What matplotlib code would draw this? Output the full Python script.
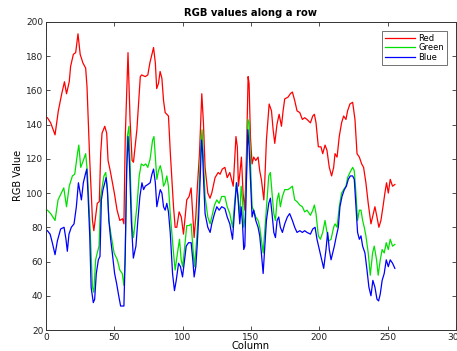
import matplotlib
matplotlib.use('Agg')
import matplotlib.pyplot as plt

# (column, value) samples
red = [(1,144),(3.4,141),(6.6,134),(9,148),(11.5,158),(13.5,165),(15,158),(17,165),(18,174),(20,181),
       (21.7,182),(23.4,193),(25,181),(27,176),(29,173),(30,162),(32,119),(34,84),(35,78),(37.5,94),
       (39,95),(40,123),(41,135),(43,139),(44.4,135),(45.4,119),(47,113),(50,100),(52,90),(54,84),
       (56,85),(57,82),(58,133),(60,182),(61.5,143),(63,119),(64,118),(66.5,137),(69,168),(70,169),
       (72.6,168),(74.5,169),(76,176),(78.7,185),(80,176),(81,161),(82.3,164),(83.5,171),(84.8,167),
       (86,154),(87.2,147),(89.6,145),(91,123),(93.3,92),(94.5,80),(95.7,80),(97.4,89),(99,86),
       (100.6,76),(101.8,86),(103,96),(104.7,98),(106.2,103),(107.2,90),(108.4,74),(109.6,86),
       (110.8,104),(112.3,123),(114,158),(115.2,141),(116.4,115),(118.4,100),(120,97),(121.3,100),
       (123.7,109),(126,112),(127.4,111),(129,114),(130.9,115),(132.6,109),(134.5,112),(137,104),
       (139,133),(140,127),(140.8,104),(141.8,111),(143,121),(144.2,100),(145.5,90),(146.7,123),
       (147.9,168),(148.6,164),(149.6,133),(150.8,117),(152,121),(153.5,119),(155.2,121),(156.4,113),
       (157.6,108),(159.4,96),(160,105),(161.3,131),(163.3,152),(165,148),(166.2,137),(167.4,129),
       (169,140),(170.6,146),(172.3,139),(173.5,148),(174.7,155),(177.1,156),(178.8,158),(180.3,159),
       (182,154),(183.7,148),(185.7,147),(187.6,143),(189.3,144),(191,143),(193.5,141),(195.2,145),
       (196.4,146),(197.6,141),(199.3,127),(201.2,127),(202.5,123),(204.2,128),(205.6,125),(207.3,115),
       (209,110),(210.5,115),(211.5,123),(213,121),(214.6,133),(216.3,141),(217.8,145),(219.5,143),
       (220.7,148),(222.4,152),(224.4,153),(226.1,143),(227.6,123),(229.3,121),(231,117),(232.4,115),
       (234.1,106),(235.8,94),(237.8,82),(239.5,88),(240.7,92),(242.2,86),(243.6,80),(245.1,84),
       (246.6,92),(248,100),(249.2,106),(250.5,100),(251.9,108),(253.6,104),(255.3,105)]

green = [(1,90),(3.4,88),(6.6,84),(8.8,96),(11.2,100),(13,103),(15,92),(17,104),(19.3,110),(21,111),
         (23,123),(24,128),(25.4,115),(27.3,119),(29,123),(30.2,113),(32,84),(34,45),(35,42),(36.3,61),
         (37.5,65),(38.8,69),(40,98),(41.2,104),(42.4,110),(43.7,112),(44.9,102),(46,84),(47.3,77),
         (49.8,65),(52.2,61),(54,55),(55.8,53),(57,46),(57.8,59),(59.5,133),(60.7,139),(62,104),(63,80),
         (64,74),(66.5,92),(68.2,110),(69.7,117),(71.4,116),(73,117),(74.5,115),(76.2,120),(78,131),
         (79,133),(80,121),(81.1,108),(82.3,113),(83.6,116),(84.8,112),(86,104),(87.2,106),(88.4,110),
         (89.6,104),(90.9,88),(93.3,65),(94.5,55),(96.2,65),(97.7,73),(98.9,61),(100,57),(101.3,67),
         (103,81),(104.7,81),(106.2,82),(107.4,69),(108.6,57),(109.9,69),(111.1,84),(112.3,108),
         (113.5,131),(114.2,137),(115.2,119),(116.4,98),(118.4,86),(120.1,82),(121.3,86),(123.3,93),
         (125,96),(126.7,94),(128.6,98),(130.9,98),(132.6,92),(134.5,88),(136.5,80),(138.2,96),
         (139.4,106),(140.6,98),(141.8,86),(142.8,104),(143.8,96),(144.7,80),(145.7,86),(146.7,113),
         (147.7,143),(148.6,141),(149.6,119),(150.8,92),(152,90),(153.5,86),(155.2,84),(156.4,80),
         (157.6,73),(158.9,65),(159.8,75),(161.3,92),(163,110),(164.2,112),(165.4,100),(166.7,88),
         (167.9,84),(169.1,96),(170.3,100),(171.5,92),(173,98),(174.7,102),(177.1,102),(178.8,103),
         (180.3,104),(182,96),(183.7,95),(185.7,93),(187.6,92),(189.3,89),(191,90),(193.5,87),
         (195.2,90),(196.4,93),(197.6,88),(199.3,75),(200.8,73),(202.5,77),(204.2,84),(205.6,77),
         (206.8,72),(208.6,73),(210.5,80),(211.5,82),(213,80),(214.6,92),(216.3,100),(217.8,102),
         (219.5,104),(220.7,109),(222.4,112),(224.4,115),(225.6,113),(226.8,100),(228,84),(229.3,90),
         (230.5,90),(231.7,84),(232.9,80),(234.1,75),(235.8,65),(237.3,52),(239,65),(240.2,69),
         (241.9,61),(243.1,52),(244.6,61),(246,67),(247.5,65),(249,71),(250.5,67),(251.9,73),
         (253.6,69),(255.3,70)]

blue = [(1,78),(3,76),(4.6,71),(6.6,64),(8.3,72),(10.7,79),(13.2,80),(14.6,73),(15.6,66),(16.8,76),
        (18.5,80),(20.5,82),(22.2,92),(23.7,106),(25,100),(25.9,96),(27.3,106),(28.8,111),(29.8,114),
        (30.7,100),(32,75),(33,45),(34.6,36),(35.6,38),(36.8,53),(38.3,61),(39.5,63),(40.5,96),
        (41.7,102),(43,106),(44,109),(44.9,102),(46,84),(47.3,73),(48.5,65),(50.2,53),(51.7,47),
        (53.2,40),(54.6,34),(56,34),(57,34),(58,65),(59,113),(60,133),(61,119),(62.4,84),(63.9,62),
        (65.8,69),(67.2,84),(68.7,98),(70.2,106),(71.4,102),(72.6,104),(74.5,105),(76.2,106),
        (77.5,111),(78.7,114),(80,106),(81.1,92),(82.3,97),(83.6,102),(84.8,100),(86,92),(87.2,90),
        (88.4,94),(89.6,89),(90.9,77),(92.6,53),(94,43),(95.3,49),(97,59),(98.4,57),(99.9,51),
        (101.1,59),(102.6,69),(104.3,71),(106.2,71),(107.4,61),(108.4,51),(109.6,57),(110.6,69),
        (111.6,84),(112.8,108),(113.8,131),(114.5,125),(115.5,104),(116.4,88),(118.4,80),(120.1,77),
        (121.3,82),(123.3,88),(125,92),(126.7,90),(128.6,92),(130.9,91),(132.6,86),(134.5,82),
        (136.5,73),(138.2,92),(139.4,106),(140.6,96),(141.8,82),(142.8,92),(143.8,82),(144.7,67),
        (145.5,69),(146.7,108),(147.7,137),(148.6,127),(149.6,108),(150.8,86),(152,90),(153.5,84),
        (155.2,80),(156.4,75),(157.6,65),(158.9,53),(159.8,65),(161.3,84),(163,94),(164.2,97),
        (165.4,88),(166.7,77),(167.9,74),(169.1,84),(170.3,86),(171.5,80),(173,77),(174.7,82),
        (176.6,86),(178.3,88),(180.3,84),(182,80),(183.7,77),(185.7,78),(187.6,77),(189.3,78),
        (191,77),(193.5,76),(195.2,79),(196.9,80),(198.3,73),(200,67),(201.7,61),(203.2,56),
        (204.9,67),(206.1,77),(207.3,67),(208.6,61),(209.8,65),(211,69),(212.5,75),(213.9,80),
        (215.1,92),(216.6,98),(218.3,102),(219.8,104),(221.2,108),(222.7,110),(224.4,110),(225.6,108),
        (226.8,92),(228,77),(229.3,73),(230.5,75),(231.7,69),(233.4,65),(234.9,55),(236.3,45),
        (237.8,40),(239.2,49),(240.7,45),(242.2,38),(243.4,37),(244.6,41),(246,49),(247.5,53),
        (249,61),(250.5,57),(251.9,61),(253.6,59),(255.3,56)]

xticks = [0, 50, 100, 150, 200, 250, 300]
yticks = [20, 40, 60, 80, 100, 120, 140, 160, 180, 200]

fig = plt.figure(figsize=(4.57, 3.51), dpi=100)
ax = fig.add_axes([0.1007, 0.0598, 0.897, 0.878])

for data, c, name in [(red, '#ff0000', 'Red'), (green, '#00e000', 'Green'), (blue, '#0000ff', 'Blue')]:
    xs = [p[0] for p in data]
    ys = [p[1] for p in data]
    ax.plot(xs, ys, color=c, lw=0.9, label=name)

ax.set_xlim(0, 300)
ax.set_ylim(20, 200)
ax.set_xticks(xticks)
ax.set_yticks(yticks)
ax.tick_params(direction='in', top=True, right=True, labelsize=6.5, length=3, width=0.6,
               pad=2, colors='#333333', labelcolor='#222222')
for s in ax.spines.values():
    s.set_linewidth(0.7)
    s.set_color('#333333')

ax.set_title('RGB values along a row', fontsize=7.2, fontweight='bold', pad=4)
ax.set_xlabel('Column', fontsize=7.2, labelpad=-0.5)
ax.set_ylabel('RGB Value', fontsize=7, labelpad=2)

leg = ax.legend(loc='upper right', fontsize=6, frameon=True, fancybox=False,
                handlelength=3.6, handletextpad=0.35, labelspacing=0.05,
                borderpad=0.35, borderaxespad=1.1)
leg.get_frame().set_edgecolor('#333333')
leg.get_frame().set_linewidth(0.6)

fig.savefig('out.png', dpi=100)
